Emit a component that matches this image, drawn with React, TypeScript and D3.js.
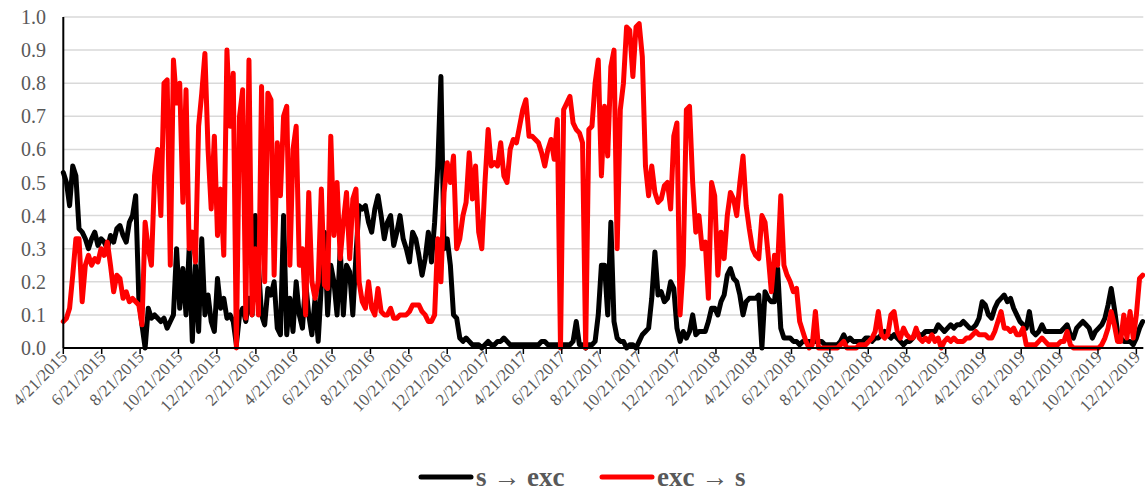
import React from 'react';
import * as d3 from 'd3';

// one reading every 5 days, starting 4/21/2015
const startDate = new Date(2015, 3, 21);
const stepDays = 5;

const sToExc = [
  0.53, 0.5, 0.43, 0.55, 0.52, 0.36, 0.35, 0.33, 0.3, 0.33,
  0.35, 0.31, 0.33, 0.32, 0.3, 0.34, 0.32, 0.36, 0.37, 0.34,
  0.32, 0.38, 0.4, 0.46, 0.15, 0.07, 0.0, 0.12, 0.09, 0.1,
  0.09, 0.08, 0.09, 0.06, 0.08, 0.1, 0.3, 0.12, 0.24, 0.1,
  0.3, 0.02, 0.25, 0.05, 0.33, 0.1, 0.16, 0.08, 0.05, 0.21,
  0.12, 0.15, 0.09, 0.1, 0.08, 0.01,
  0.1, 0.12, 0.08, 0.15, 0.1, 0.4, 0.25, 0.1, 0.07, 0.18,
  0.16, 0.2, 0.06, 0.04, 0.4, 0.04, 0.15, 0.05, 0.2, 0.1,
  0.06, 0.2, 0.1, 0.04, 0.15, 0.02, 0.19, 0.35, 0.1, 0.25,
  0.2, 0.1, 0.3, 0.1, 0.25, 0.23, 0.1, 0.28, 0.43, 0.42,
  0.43, 0.38, 0.35, 0.42, 0.46, 0.4, 0.33, 0.38, 0.4, 0.31,
  0.35, 0.4, 0.33, 0.3, 0.26,
  0.35,
  0.33, 0.28, 0.22, 0.27, 0.35, 0.26, 0.38, 0.55, 0.82, 0.3,
  0.33, 0.25, 0.1, 0.09, 0.03, 0.02, 0.03, 0.02, 0.01, 0.01,
  0.01, 0.0, 0.01, 0.02, 0.01, 0.01, 0.02, 0.02, 0.03, 0.02,
  0.01, 0.01, 0.01, 0.01, 0.01, 0.01, 0.01, 0.01, 0.01, 0.01,
  0.02, 0.02, 0.01, 0.01, 0.01, 0.01, 0.01, 0.01, 0.01, 0.01,
  0.02, 0.08, 0.01, 0.01, 0.0,
  0.01, 0.01, 0.02, 0.1, 0.25, 0.25, 0.1, 0.38, 0.08, 0.03,
  0.02, 0.02, 0.0, 0.01, 0.01, 0.0, 0.02, 0.04, 0.05, 0.06,
  0.15, 0.29, 0.16, 0.17, 0.14, 0.15, 0.2, 0.18, 0.06, 0.02,
  0.05, 0.03, 0.05, 0.1, 0.04, 0.05, 0.05, 0.05, 0.08, 0.12,
  0.12, 0.1, 0.14, 0.16, 0.22, 0.24, 0.21, 0.2, 0.16, 0.1,
  0.14, 0.15, 0.15, 0.15, 0.16, 0.0,
  0.17, 0.15, 0.14, 0.14, 0.24, 0.06, 0.03, 0.03, 0.03, 0.02,
  0.02, 0.01, 0.02, 0.02, 0.02, 0.02, 0.02, 0.02, 0.02, 0.01,
  0.01, 0.01, 0.01, 0.01, 0.02, 0.04, 0.02, 0.03, 0.02, 0.02,
  0.02, 0.02, 0.03, 0.03, 0.02, 0.03, 0.03, 0.04, 0.05, 0.04,
  0.03, 0.04, 0.03, 0.02, 0.01, 0.02, 0.02, 0.03, 0.05, 0.04,
  0.04, 0.05, 0.05, 0.05, 0.05, 0.07, 0.06, 0.05, 0.06, 0.07,
  0.06, 0.07, 0.07, 0.08, 0.07, 0.06, 0.06, 0.07, 0.09, 0.14,
  0.13, 0.1, 0.09, 0.12, 0.14, 0.15, 0.16, 0.14, 0.15, 0.12,
  0.1, 0.08, 0.07, 0.06, 0.11, 0.05, 0.04, 0.05, 0.07, 0.05,
  0.05, 0.05, 0.05, 0.05, 0.05, 0.06, 0.07, 0.04, 0.03, 0.06,
  0.07, 0.08, 0.07, 0.06, 0.03, 0.05, 0.06, 0.07, 0.09, 0.13,
  0.18, 0.12, 0.05, 0.03, 0.02, 0.02, 0.02, 0.01, 0.03, 0.06, 0.08,
];

const excToS = [
  0.08, 0.09, 0.12, 0.22, 0.33, 0.33, 0.14, 0.25, 0.28, 0.25,
  0.27, 0.26, 0.3, 0.28, 0.32, 0.25, 0.17, 0.22, 0.21, 0.15,
  0.17, 0.14, 0.15, 0.14, 0.13, 0.07, 0.38, 0.3, 0.25, 0.52,
  0.6, 0.4, 0.8, 0.81, 0.25, 0.87, 0.74, 0.8, 0.44, 0.78,
  0.3, 0.35, 0.26, 0.67, 0.77, 0.89, 0.6, 0.42, 0.64, 0.34,
  0.48, 0.28, 0.9, 0.67, 0.83, 0.0,
  0.7, 0.78, 0.09, 0.87, 0.1, 0.3, 0.1, 0.79, 0.2, 0.77,
  0.75, 0.22, 0.62, 0.46, 0.7, 0.73, 0.25, 0.6, 0.67, 0.25,
  0.3, 0.1, 0.47, 0.2, 0.15, 0.2, 0.48, 0.19, 0.18, 0.64,
  0.34, 0.5, 0.27, 0.38, 0.47, 0.27, 0.45, 0.48, 0.2, 0.14,
  0.12, 0.2, 0.12, 0.1, 0.18, 0.11, 0.1, 0.1, 0.12, 0.09,
  0.09, 0.1, 0.1, 0.1, 0.11,
  0.13,
  0.13, 0.13, 0.11, 0.1, 0.08, 0.08, 0.1, 0.33, 0.2, 0.47,
  0.56, 0.5, 0.58, 0.3, 0.33, 0.4, 0.44, 0.59, 0.45, 0.55,
  0.35, 0.3, 0.5, 0.66, 0.55, 0.56, 0.55, 0.62, 0.52, 0.5,
  0.6, 0.63, 0.62, 0.67, 0.72, 0.75, 0.64, 0.64, 0.63, 0.62,
  0.59, 0.55, 0.6, 0.63, 0.57, 0.69, 0.0, 0.72, 0.74, 0.76,
  0.68, 0.66, 0.65, 0.62, 0.0,
  0.66, 0.67, 0.8, 0.87, 0.52, 0.73, 0.58, 0.85, 0.9, 0.3,
  0.72, 0.8, 0.97, 0.96, 0.82, 0.97, 0.98, 0.88, 0.55, 0.46,
  0.55, 0.47, 0.44, 0.45, 0.49, 0.5, 0.42, 0.64, 0.68, 0.1,
  0.25, 0.72, 0.73, 0.5, 0.35, 0.4, 0.3, 0.32, 0.15, 0.5,
  0.46, 0.22, 0.35, 0.27, 0.4, 0.47, 0.45, 0.4, 0.5, 0.58,
  0.43, 0.36, 0.3, 0.28, 0.27, 0.4,
  0.38, 0.28, 0.17, 0.28, 0.25, 0.46, 0.25, 0.22, 0.2, 0.17,
  0.18, 0.08, 0.05, 0.02, 0.0, 0.01, 0.11, 0.0, 0.0, 0.0,
  0.0, 0.0, 0.0, 0.0, 0.01, 0.02, 0.0, 0.0, 0.0, 0.0,
  0.01, 0.01, 0.01, 0.02, 0.03, 0.05, 0.11, 0.04, 0.03, 0.04,
  0.1, 0.11, 0.05, 0.03, 0.06, 0.04, 0.03, 0.03, 0.06, 0.03,
  0.02, 0.03, 0.02, 0.04, 0.02, 0.03, 0.0, 0.02, 0.03, 0.02,
  0.03, 0.02, 0.02, 0.02, 0.03, 0.03, 0.04, 0.05, 0.04, 0.04,
  0.04, 0.03, 0.03, 0.05, 0.08, 0.11, 0.06, 0.06, 0.05, 0.06,
  0.04, 0.04, 0.06, 0.01, 0.01, 0.01, 0.01, 0.02, 0.03, 0.02,
  0.01, 0.01, 0.01, 0.01, 0.02, 0.02, 0.05, 0.01, 0.0, 0.0,
  0.0, 0.0, 0.0, 0.0, 0.0, 0.0, 0.0, 0.01, 0.03, 0.06,
  0.11, 0.07, 0.02, 0.02, 0.1, 0.03, 0.11, 0.03, 0.1, 0.21, 0.22,
];

const tickLabels = [
  '4/21/2015', '6/21/2015', '8/21/2015', '10/21/2015', '12/21/2015',
  '2/21/2016', '4/21/2016', '6/21/2016', '8/21/2016', '10/21/2016', '12/21/2016',
  '2/21/2017', '4/21/2017', '6/21/2017', '8/21/2017', '10/21/2017', '12/21/2017',
  '2/21/2018', '4/21/2018', '6/21/2018', '8/21/2018', '10/21/2018', '12/21/2018',
  '2/21/2019', '4/21/2019', '6/21/2019', '8/21/2019', '10/21/2019', '12/21/2019',
];

const yTicks = [0, 0.1, 0.2, 0.3, 0.4, 0.5, 0.6, 0.7, 0.8, 0.9, 1.0];

const seriesNames = ['s \u2192 exc', 'exc \u2192 s'];
const seriesColors = ['#000000', '#ff0000'];

const W = 1145;
const H = 493;
const left = 63.3;
const right = 1143.3;
const top = 17;
const bottom = 348;
const font = '"Liberation Serif", "Times New Roman", Times, serif';

const parseLabel = (s: string) => {
  const [m, d, y] = s.split('/').map(Number);
  return new Date(y, m - 1, d);
};

export default function App() {
  const dates = sToExc.map((_, i) => d3.timeDay.offset(startDate, i * stepDays));

  const x = d3
    .scaleTime()
    .domain([startDate, new Date(2020, 0, 1)])
    .range([left, right]);
  const y = d3.scaleLinear().domain([0, 1]).range([bottom, top]);

  const line = d3
    .line<number>()
    .x((_, i) => x(dates[i]))
    .y((d) => y(d));

  const series = [sToExc, excToS];

  return (
    <svg
      width={W}
      height={H}
      style={{ position: 'absolute', left: 0, top: 0, background: '#fff' }}
    >
      {/* gridlines */}
      {yTicks.map((t) => (
        <line
          key={'g' + t}
          x1={left}
          x2={right}
          y1={y(t)}
          y2={y(t)}
          stroke="#d9d9d9"
          strokeWidth={1.5}
        />
      ))}

      {/* y labels */}
      {yTicks.map((t) => (
        <text
          key={'yl' + t}
          x={46}
          y={y(t)}
          dy="0.35em"
          textAnchor="end"
          fontFamily={font}
          fontSize={20}
          fill="#595959"
        >
          {t.toFixed(1)}
        </text>
      ))}

      {/* series, red drawn last like Excel */}
      {series.map((s, i) => (
        <path
          key={'s' + i}
          d={line(s) || ''}
          fill="none"
          stroke={seriesColors[i]}
          style={{ strokeWidth: 5 }}
          strokeLinejoin="round"
          strokeLinecap="round"
        />
      ))}

      {/* axes */}
      <line x1={left} x2={left} y1={top} y2={bottom} stroke="#000" strokeWidth={2} />
      <line x1={left} x2={right} y1={bottom} y2={bottom} stroke="#000" strokeWidth={2} />

      {tickLabels.map((lab) => {
        const tx = x(parseLabel(lab));
        return (
          <g key={lab}>
            <line x1={tx} x2={tx} y1={bottom} y2={bottom + 6} stroke="#000" strokeWidth={1.5} />
            <text
              transform={`translate(${tx + 5},${bottom + 10}) rotate(-45)`}
              textAnchor="end"
              fontFamily={font}
              fontSize={17}
              fill="#595959"
            >
              {lab}
            </text>
          </g>
        );
      })}

      {/* legend */}
      {seriesNames.map((name, i) => {
        const lx = i === 0 ? 421 : 602;
        const ly = 477;
        return (
          <g key={name}>
            <line
              x1={lx}
              x2={lx + 50}
              y1={ly}
              y2={ly}
              stroke={seriesColors[i]}
              strokeWidth={5}
              strokeLinecap="round"
            />
            <text
              x={lx + 55}
              y={ly + 9}
              fontFamily={font}
              fontSize={27}
              fontWeight="bold"
              fill="#595959"
            >
              {name}
            </text>
          </g>
        );
      })}
    </svg>
  );
}
